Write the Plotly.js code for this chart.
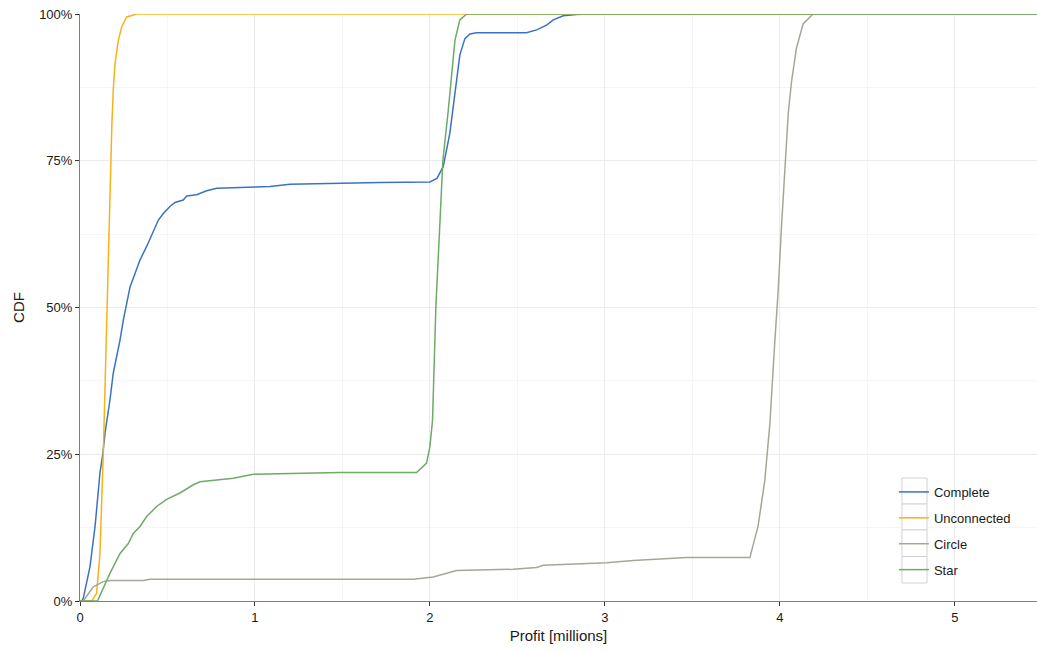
<!DOCTYPE html>
<html>
<head>
<meta charset="utf-8">
<script src="https://cdn.plot.ly/plotly-3.0.1.min.js"></script>
<style>
  html, body { margin: 0; padding: 0; background: #fff; }
  #chart { width: 1037px; height: 652px; }
</style>
</head>
<body>
<div id="chart"></div>
<script>
// Empirical CDFs of profit (in millions) for four network structures
const seriesNames = ["Complete", "Unconnected", "Circle", "Star"];
const seriesColors = ["#3a73c2", "#f7b21a", "#a9a596", "#6dab66"];

const completeProfit = [0, 0.01, 0.019, 0.057, 0.086, 0.114, 0.13, 0.143, 0.171, 0.19, 0.229, 0.248, 0.286, 0.314, 0.343, 0.381, 0.41, 0.448, 0.476, 0.514, 0.543, 0.59, 0.61, 0.667, 0.724, 0.781, 1.086, 1.2, 1.714, 2.0, 2.04, 2.076, 2.114, 2.133, 2.152, 2.171, 2.2, 2.229, 2.267, 2.552, 2.61, 2.667, 2.705, 2.762, 2.838, 2.9, 6];
const completeCdf    = [0, 0, 0.005, 0.058, 0.127, 0.218, 0.25, 0.286, 0.342, 0.388, 0.445, 0.479, 0.535, 0.558, 0.581, 0.604, 0.624, 0.649, 0.660, 0.672, 0.679, 0.683, 0.690, 0.692, 0.699, 0.703, 0.706, 0.710, 0.713, 0.714, 0.72, 0.74, 0.797, 0.845, 0.885, 0.93, 0.958, 0.966, 0.968, 0.968, 0.973, 0.981, 0.990, 0.997, 0.999, 1, 1];

const unconnectedProfit = [0, 0.067, 0.095, 0.114, 0.133, 0.154, 0.175, 0.182, 0.19, 0.2, 0.219, 0.238, 0.267, 0.324, 6];
const unconnectedCdf    = [0, 0, 0.013, 0.08, 0.25, 0.5, 0.734, 0.81, 0.87, 0.915, 0.955, 0.978, 0.995, 1, 1];

const circleProfit = [0, 0.019, 0.076, 0.133, 0.171, 0.362, 0.4, 1.714, 1.905, 2.019, 2.076, 2.152, 2.476, 2.61, 2.648, 2.857, 3.01, 3.162, 3.467, 3.829, 3.876, 3.914, 3.943, 3.971, 3.99, 4.01, 4.029, 4.048, 4.067, 4.095, 4.133, 4.19, 6];
const circleCdf    = [0, 0, 0.024, 0.033, 0.035, 0.035, 0.037, 0.037, 0.037, 0.041, 0.046, 0.052, 0.054, 0.057, 0.061, 0.063, 0.065, 0.069, 0.074, 0.074, 0.128, 0.205, 0.301, 0.44, 0.526, 0.64, 0.735, 0.83, 0.885, 0.942, 0.983, 1, 1];

const starProfit = [0, 0.1, 0.171, 0.229, 0.276, 0.305, 0.343, 0.381, 0.438, 0.495, 0.571, 0.648, 0.686, 0.8, 0.876, 0.99, 1.333, 1.486, 1.924, 1.981, 2.0, 2.015, 2.034, 2.074, 2.105, 2.124, 2.143, 2.171, 2.2, 2.21, 6];
const starCdf    = [0, 0, 0.047, 0.081, 0.098, 0.115, 0.127, 0.144, 0.161, 0.173, 0.184, 0.198, 0.203, 0.206, 0.209, 0.216, 0.218, 0.219, 0.219, 0.235, 0.263, 0.308, 0.5, 0.75, 0.836, 0.893, 0.955, 0.99, 0.998, 1, 1];

const xTickVals = [0, 1, 2, 3, 4, 5];
const yTickVals = [0, 0.25, 0.5, 0.75, 1];
const yTickText = ["0%", "25%", "50%", "75%", "100%"];

const xs = [completeProfit, unconnectedProfit, circleProfit, starProfit];
const ys = [completeCdf, unconnectedCdf, circleCdf, starCdf];

const traces = seriesNames.map((name, i) => ({
  type: "scatter",
  mode: "lines",
  name: name,
  legendgroup: name,
  x: xs[i],
  y: ys[i],
  line: { color: seriesColors[i], width: 1.5 }
}));

// Framed key cells behind the legend samples
const keyLeft = 0.8589, keyRight = 0.8851;
const keyEdges = [0.2095, 0.1652, 0.121, 0.0758, 0.0307];
const keyShapes = seriesNames.map((_, i) => ({
  type: "rect",
  xref: "paper", yref: "paper",
  x0: keyLeft, x1: keyRight,
  y0: keyEdges[i + 1], y1: keyEdges[i],
  line: { color: "#d3d3d3", width: 1 },
  fillcolor: "#ffffff",
  layer: "above"
}));

const font = { family: "Liberation Sans, Arial, sans-serif", size: 13, color: "#1a1a1a" };

const layout = {
  width: 1037,
  height: 652,
  margin: { l: 80, r: 0, t: 14, b: 51 },
  paper_bgcolor: "#ffffff",
  plot_bgcolor: "#ffffff",
  font: font,
  showlegend: true,
  shapes: keyShapes,
  legend: {
    x: 0.8505, y: 0.2113,
    xanchor: "left", yanchor: "top",
    bgcolor: "rgba(0,0,0,0)",
    borderwidth: 0,
    font: { family: font.family, size: 13, color: "#1a1a1a" },
    tracegroupgap: 6,
    itemwidth: 30
  },
  xaxis: {
    range: [0, 5.47],
    tickvals: xTickVals,
    ticks: "outside",
    ticklen: 4,
    tickcolor: "#333333",
    showline: true,
    linecolor: "#7f7f7f",
    linewidth: 1,
    zeroline: false,
    showgrid: true,
    gridcolor: "#ebebeb",
    gridwidth: 1,
    minor: { dtick: 0.5, tick0: 0, showgrid: true, gridcolor: "#f5f5f5", gridwidth: 1 },
    tickfont: { size: 13, color: "#1a1a1a" },
    title: { text: "Profit [millions]", font: { size: 15, color: "#1a1a1a" }, standoff: 6 }
  },
  yaxis: {
    range: [0, 1],
    tickvals: yTickVals,
    ticktext: yTickText,
    ticks: "outside",
    ticklen: 4,
    tickcolor: "#333333",
    showline: true,
    linecolor: "#7f7f7f",
    linewidth: 1,
    zeroline: false,
    showgrid: true,
    gridcolor: "#ebebeb",
    gridwidth: 1,
    minor: { dtick: 0.125, tick0: 0, showgrid: true, gridcolor: "#f5f5f5", gridwidth: 1 },
    tickfont: { size: 13, color: "#1a1a1a" },
    title: { text: "CDF", font: { size: 15, color: "#1a1a1a" }, standoff: 10 }
  }
};

Plotly.newPlot("chart", traces, layout, { displayModeBar: false, staticPlot: true });
</script>
</body>
</html>
